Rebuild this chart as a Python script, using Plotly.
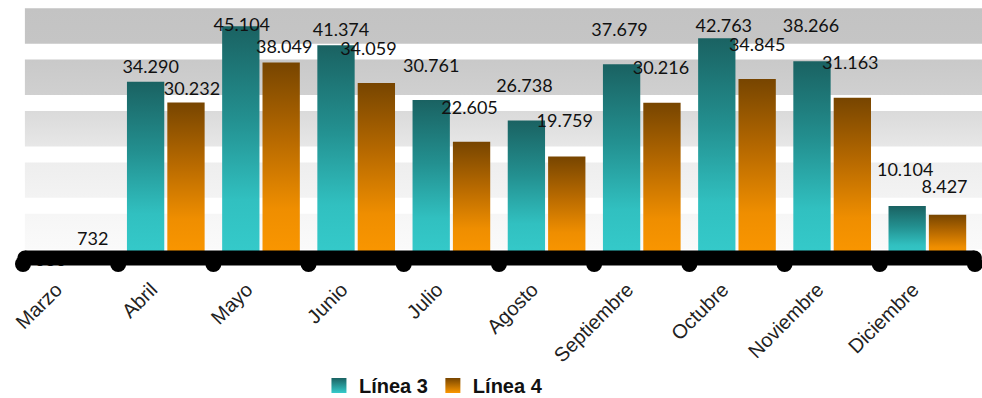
import plotly.graph_objects as go

# Monthly totals per line
meses = ["Marzo", "Abril", "Mayo", "Junio", "Julio", "Agosto",
         "Septiembre", "Octubre", "Noviembre", "Diciembre"]
linea3 = [636, 34290, 45104, 41374, 30761, 26738, 37679, 42763, 38266, 10104]
linea4 = [732, 30232, 38049, 34059, 22605, 19759, 30216, 34845, 31163, 8427]

# Label placement tweaks in pixels (vertical: text centre above the bar top)
l3_dy = [-7, 13, 0, 14, 32, 33, 33, 11, 34, 35]
l4_dy = [14, 12.5, 14, 32, 32, 34, 33, 32, 33, 26]
l3_dx = [0, 5, 1, 5, 0, -2, -2, 7, -1, -2]
l4_dx = [2, 6, 3, -8, -2, -2, -1, 0, -2, -3]

# Background band shades (bottom, top) per 10k step, from 0 upward
band_steps = [0, 10000, 20000, 30000, 40000]
band_colors = [("#fafafa", "#f6f6f6"), ("#f3f3f3", "#eeeeee"),
               ("#e7e7e7", "#dadada"), ("#d0d0d0", "#c9c9c9"),
               ("#c5c5c5", "#c3c3c3")]

TEAL_SCALE = [[0, "#35cbcb"], [0.25, "#31c0c0"], [0.6, "#239090"], [1, "#1a6262"]]
ORANGE_SCALE = [[0, "#fb9700"], [0.25, "#ef8e00"], [0.6, "#b86a00"], [1, "#774500"]]

# Geometry
PLOT_W, PLOT_TOP, ZERO_PX, PLOT_BOTTOM = 959, 1, 258, 280
X_LEFT, X_RIGHT = -0.5, 9.574
Y_MAX = 50000
PX_PER_UNIT = (ZERO_PX - PLOT_TOP) / Y_MAX
Y_MIN = -(PLOT_BOTTOM - ZERO_PX) / PX_PER_UNIT
PX_PER_CAT = PLOT_W / (X_RIGHT - X_LEFT)
BAR_W, HALF_GAP = 0.392, 0.016


def fmt(v):
    return f"{v:,}".replace(",", ".")


fig = go.Figure()

# gray bands with white gaps around each 10k level
for base, (c_lo, c_hi) in zip(band_steps, band_colors):
    lo, hi = base + 1700, base + 8600
    xl = X_LEFT + 0.02
    fig.add_trace(go.Scatter(
        x=[xl, X_RIGHT, X_RIGHT, xl, xl],
        y=[lo, lo, hi, hi, lo], mode="lines", line=dict(width=0),
        fill="toself", fillgradient=dict(type="vertical", colorscale=[[0, c_lo], [1, c_hi]]),
        showlegend=False, hoverinfo="skip"))


def bar_span(i, side):
    if side < 0:
        return i - HALF_GAP - BAR_W, i - HALF_GAP
    return i + HALF_GAP, i + HALF_GAP + BAR_W


# gradient bars, one polygon per value
for series, scale, side in ((linea3, TEAL_SCALE, -1), (linea4, ORANGE_SCALE, 1)):
    for i, v in enumerate(series):
        x0, x1 = bar_span(i, side)
        fig.add_trace(go.Scatter(
            x=[x0, x1, x1, x0, x0], y=[0, 0, v, v, 0], mode="lines",
            line=dict(width=0), fill="toself",
            fillgradient=dict(type="vertical", colorscale=scale),
            showlegend=False, hoverinfo="skip"))

# value labels over the bars
label_x, label_y, label_t = [], [], []
for series, side, dys, dxs in ((linea3, -1, l3_dy, l3_dx), (linea4, 1, l4_dy, l4_dx)):
    for i, v in enumerate(series):
        x0, x1 = bar_span(i, side)
        label_x.append((x0 + x1) / 2 + dxs[i] / PX_PER_CAT)
        label_y.append(v + dys[i] / PX_PER_UNIT)
        label_t.append(fmt(v))
fig.add_trace(go.Scatter(
    x=label_x, y=label_y, text=label_t, mode="text", textposition="middle center",
    textfont=dict(family="Lato", size=18, color="#111111"),
    cliponaxis=False, showlegend=False, hoverinfo="skip"))

# thick base line with round ends and dots between months
x_line_l, x_line_r = X_LEFT + 0.02, X_RIGHT - 0.08
fig.add_trace(go.Scatter(
    x=[x_line_l, x_line_r], y=[0, 0], mode="lines+markers",
    line=dict(color="black", width=15),
    marker=dict(color="black", size=15, symbol="circle"),
    cliponaxis=False, showlegend=False, hoverinfo="skip"))
fig.add_trace(go.Scatter(
    x=[k - 0.5 for k in range(len(meses) + 1)],
    y=[-6 / PX_PER_UNIT] * (len(meses) + 1), mode="markers",
    marker=dict(color="black", size=16, symbol="circle"),
    cliponaxis=False, showlegend=False, hoverinfo="skip"))

# legend entries
fig.add_trace(go.Scatter(
    x=[None], y=[None], mode="markers", name="Línea 3",
    marker=dict(symbol="square", size=15, color="#1a6262",
                gradient=dict(type="vertical", color="#35cbcb"))))
fig.add_trace(go.Scatter(
    x=[None], y=[None], mode="markers", name="Línea 4",
    marker=dict(symbol="square", size=15, color="#774500",
                gradient=dict(type="vertical", color="#fb9700"))))

plot_h = PLOT_BOTTOM - PLOT_TOP
fig.update_layout(
    width=982, height=398,
    margin=dict(l=982 - PLOT_W, r=0, t=PLOT_TOP, b=398 - PLOT_BOTTOM, autoexpand=False),
    paper_bgcolor="white", plot_bgcolor="white",
    hovermode=False,
    showlegend=True,
    legend=dict(orientation="h", x=0.428, xanchor="center",
                y=-(366 - PLOT_BOTTOM) / plot_h, yanchor="top",
                font=dict(family="Liberation Sans", size=20, color="#111111", weight="bold"),
                itemwidth=30, bgcolor="rgba(0,0,0,0)"),
    xaxis=dict(range=[X_LEFT, X_RIGHT], tickmode="array",
               tickvals=[i - 0.15 for i in range(len(meses))], ticktext=meses,
               tickangle=-45, showgrid=False, zeroline=False, showline=False,
               ticks="", ticklabelstandoff=-7, automargin=False,
               tickfont=dict(family="Liberation Sans", size=20, color="#222222"),
               fixedrange=True),
    yaxis=dict(range=[Y_MIN, Y_MAX], visible=False, showgrid=False, zeroline=False,
               automargin=False, fixedrange=True),
)

fig.write_html("out.html")
